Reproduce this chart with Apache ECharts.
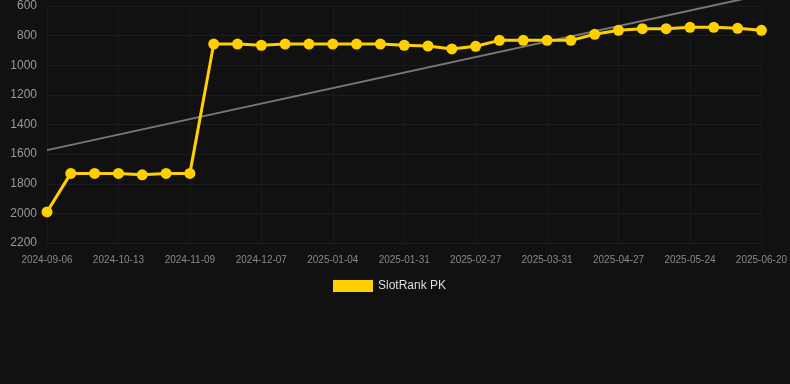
<!DOCTYPE html>
<html>
<head>
<meta charset="utf-8">
<script src="https://cdn.jsdelivr.net/npm/echarts@6/dist/echarts.min.js"></script>
<style>
  html, body { margin: 0; padding: 0; background: #111111; }
  #main { width: 790px; height: 384px; }
</style>
</head>
<body>
<div id="main"></div>
<script>
// Dates (only every third one is shown on the axis)
const dates = [
  '2024-09-06', '2024-09-18', '2024-09-30', '2024-10-13', '2024-10-22', '2024-10-31',
  '2024-11-09', '2024-11-18', '2024-11-27', '2024-12-07', '2024-12-16', '2024-12-25',
  '2025-01-04', '2025-01-13', '2025-01-22', '2025-01-31', '2025-02-09', '2025-02-18',
  '2025-02-27', '2025-03-09', '2025-03-20', '2025-03-31', '2025-04-09', '2025-04-18',
  '2025-04-27', '2025-05-06', '2025-05-15', '2025-05-24', '2025-06-02', '2025-06-11',
  '2025-06-20'
];

// Rank values
const rankPK = [
  1990, 1730, 1730, 1730, 1740, 1730, 1730,
  857, 857, 865, 857, 857, 857, 857, 857,
  865, 870, 890, 872, 832, 832, 832, 832,
  791, 764, 753, 753, 744, 744, 751, 764
];

// Trend line end points (first and last date)
const trendStart = 1573;
const trendEnd = 526;

const chart = echarts.init(document.getElementById('main'), null, { renderer: 'canvas' });

const option = {
  backgroundColor: '#111111',
  animation: false,
  grid: { left: 47, right: 28, top: 6, bottom: 141 },
  legend: {
    bottom: 87,
    left: 328,
    data: ['SlotRank PK'],
    itemWidth: 40,
    itemHeight: 12,
    itemGap: 6,
    icon: 'rect',
    textStyle: { color: '#dddddd', fontSize: 12, fontFamily: 'Arial, Liberation Sans, sans-serif' }
  },
  xAxis: {
    type: 'category',
    data: dates,
    boundaryGap: false,
    axisLine: { show: false },
    axisTick: { show: false },
    axisLabel: {
      interval: 2,
      color: '#888888',
      fontSize: 10,
      margin: 12,
      fontFamily: 'Arial, Liberation Sans, sans-serif'
    },
    splitLine: { show: true, interval: 2, lineStyle: { color: '#191919', width: 1 } }
  },
  yAxis: {
    type: 'value',
    inverse: true,
    min: 600,
    max: 2200,
    interval: 200,
    axisLine: { show: false },
    axisTick: { show: false },
    axisLabel: {
      color: '#999999',
      fontSize: 12,
      margin: 10,
      formatter: (v) => String(v),
      fontFamily: 'Arial, Liberation Sans, sans-serif'
    },
    splitLine: { lineStyle: { color: '#1c1c1c', width: 1 } }
  },
  series: [
    {
      name: 'Trend',
      type: 'line',
      data: [[0, trendStart], [dates.length - 1, trendEnd]],
      showSymbol: false,
      clip: false,
      silent: true,
      lineStyle: { color: '#777777', width: 2 },
      z: 1
    },
    {
      name: 'SlotRank PK',
      type: 'line',
      data: rankPK,
      symbol: 'circle',
      symbolSize: 11,
      itemStyle: { color: '#ffd000' },
      lineStyle: { color: '#ffd000', width: 3 },
      z: 3
    }
  ]
};

chart.setOption(option);

window.addEventListener('resize', () => {
  chart.resize();
});
</script>
</body>
</html>
